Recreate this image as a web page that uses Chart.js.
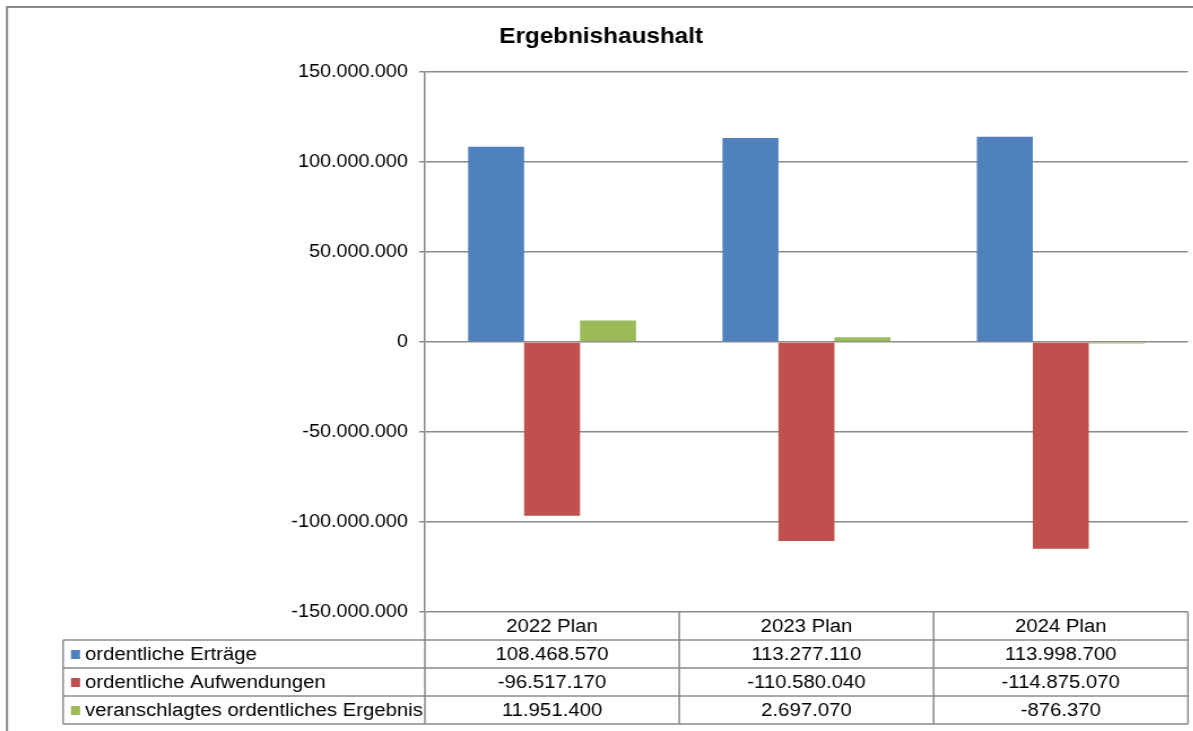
<!DOCTYPE html>
<html>
<head>
<meta charset="utf-8">
<script src="https://cdn.jsdelivr.net/npm/chart.js@4"></script>
<style>
  html, body { margin: 0; padding: 0; background: #fff; overflow: hidden; }
  #wrap { width: 1056px; height: 731px; transform: scaleX(1.13); transform-origin: 0 0; }
</style>
</head>
<body>
<div id="wrap"><canvas id="chart" width="1056" height="731"></canvas></div>
<script>
// Data
const chartTitle = 'Ergebnishaushalt';
const categories = ['2022 Plan', '2023 Plan', '2024 Plan'];
const seriesNames = ['ordentliche Erträge', 'ordentliche Aufwendungen', 'veranschlagtes ordentliches Ergebnis'];
const ertraege = [108468570, 113277110, 113998700];
const aufwendungen = [-96517170, -110580040, -114875070];
const ergebnis = [11951400, 2697070, -876370];
const yTicks = [-150000000, -100000000, -50000000, 0, 50000000, 100000000, 150000000];

const colors = ['#4f81bd', '#c0504d', '#9bbb59'];
const lineColor = '#8a8a8a';
const font = '"Liberation Sans", Arial, sans-serif';

// German thousands separator
const fmt = (v) => {
  const s = Math.abs(v).toString().replace(/\B(?=(\d{3})+(?!\d))/g, '.');
  return (v < 0 ? '-' : '') + s;
};

// Title, frame and data table under the plot
const tablePlugin = {
  id: 'dataTable',
  beforeDraw(chart) {
    const { ctx, width, height } = chart;
    ctx.save();
    ctx.fillStyle = '#fff';
    ctx.fillRect(0, 0, width, height);
    ctx.restore();
  },
  afterDraw(chart) {
    const { ctx, chartArea: a, scales: { x } } = chart;
    const allData = [ertraege, aufwendungen, ergebnis];
    const half = (a.right - a.left) / categories.length / 2;
    const rowH = 28;
    const top = a.bottom;
    const bottom = top + rowH * 4;
    const tableLeft = 55.8;

    ctx.save();
    // outer frame
    ctx.strokeStyle = lineColor;
    ctx.lineWidth = 2;
    ctx.beginPath();
    ctx.moveTo(6.2, chart.height);
    ctx.lineTo(6.2, 7);
    ctx.lineTo(chart.width, 7);
    ctx.stroke();

    // title
    ctx.fillStyle = '#000';
    ctx.font = 'bold 21.5px ' + font;
    ctx.textAlign = 'center';
    ctx.textBaseline = 'alphabetic';
    ctx.fillText(chartTitle, 532, 43);

    // table lines
    ctx.lineWidth = 1.5;
    ctx.beginPath();
    for (let r = 1; r <= 4; r++) {
      ctx.moveTo(tableLeft, top + rowH * r);
      ctx.lineTo(a.right, top + rowH * r);
    }
    ctx.moveTo(a.left, top);
    ctx.lineTo(a.left, bottom);
    categories.forEach((c, i) => {
      const bx = x.getPixelForValue(i) + half;
      ctx.moveTo(bx, top);
      ctx.lineTo(bx, bottom);
    });
    ctx.moveTo(tableLeft, top + rowH);
    ctx.lineTo(tableLeft, bottom);
    ctx.stroke();

    // table text
    ctx.font = '18px ' + font;
    ctx.textBaseline = 'middle';
    ctx.fillStyle = '#000';
    ctx.textAlign = 'center';
    categories.forEach((c, i) => {
      ctx.fillText(c, x.getPixelForValue(i), top + rowH / 2 + 1);
    });
    seriesNames.forEach((name, s) => {
      const cy = top + rowH * (s + 1) + rowH / 2 + 1;
      ctx.fillStyle = colors[s];
      ctx.fillRect(62.8, cy - 5, 8, 9);
      ctx.fillStyle = '#000';
      ctx.textAlign = 'left';
      ctx.fillText(name, 75.2, cy);
      ctx.textAlign = 'center';
      allData[s].forEach((v, i) => {
        ctx.fillText(fmt(v), x.getPixelForValue(i), cy);
      });
    });
    ctx.restore();
  }
};

const ctx = document.getElementById('chart');

new Chart(ctx, {
  type: 'bar',
  data: {
    labels: categories,
    datasets: [
      { label: seriesNames[0], data: ertraege, backgroundColor: colors[0] },
      { label: seriesNames[1], data: aufwendungen, backgroundColor: colors[1] },
      { label: seriesNames[2], data: ergebnis, backgroundColor: colors[2] },
    ],
  },
  options: {
    responsive: false,
    animation: false,
    devicePixelRatio: 1,
    datasets: {
      bar: {
        categoryPercentage: 0.66,
        barPercentage: 1,
      },
    },
    layout: {
      padding: { top: 72, bottom: 119, left: 0, right: 4.7 },
    },
    scales: {
      x: {
        display: false,
      },
      y: {
        min: -150000000,
        max: 150000000,
        afterFit: (scale) => { scale.width = 376; },
        afterBuildTicks: (scale) => {
          scale.ticks = yTicks.map(v => ({ value: v }));
        },
        border: {
          display: true,
          color: lineColor,
          width: 1.5,
        },
        grid: {
          color: lineColor,
          lineWidth: 1.5,
          tickLength: 5,
          drawTicks: true,
        },
        ticks: {
          padding: 10,
          color: '#000',
          font: { family: font, size: 17.5 },
          callback: (v) => fmt(v),
        },
      },
    },
    plugins: {
      legend: { display: false },
      title: { display: false },
      tooltip: { enabled: false },
    },
  },
  plugins: [tablePlugin],
});
</script>
</body>
</html>
